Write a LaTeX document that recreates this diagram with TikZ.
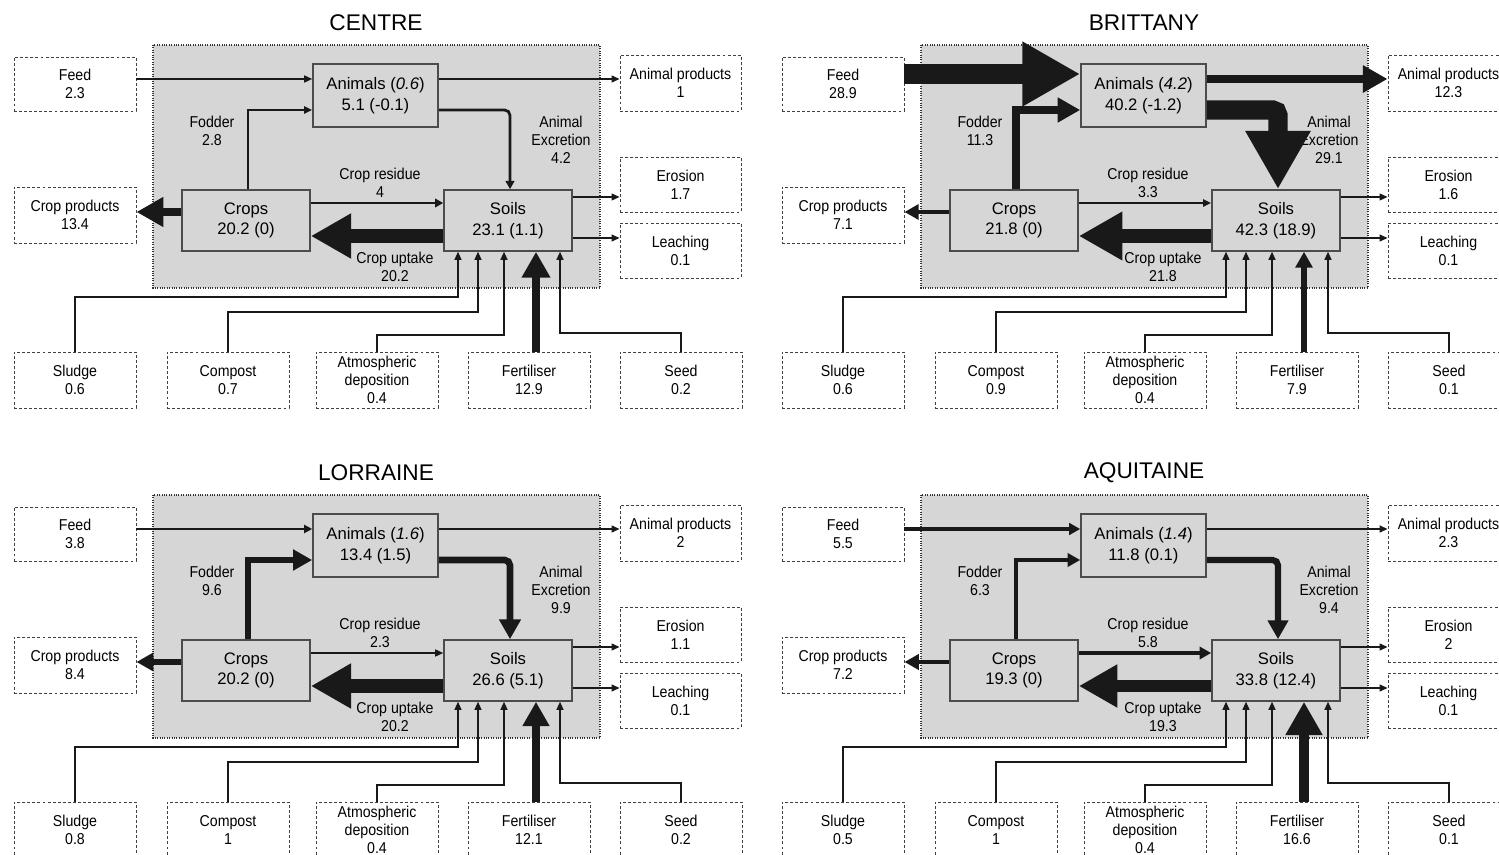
\documentclass[tikz,border=0pt]{standalone}
\usepackage{fontspec}
\setmainfont{Liberation Sans}
\newfontfamily\narrowfont{Liberation Sans}[FakeStretch=0.9]
\usetikzlibrary{arrows.meta}

% values of one region
\pgfkeys{/region/.is family, /region,
  title/.store in=\vTitle, feed/.store in=\vFeed, stock/.store in=\vStock,
  anim/.store in=\vAnim, aprod/.store in=\vAprod, fodder/.store in=\vFodder,
  excr/.store in=\vExcr, cprod/.store in=\vCprod, crops/.store in=\vCrops,
  resid/.store in=\vResid, soils/.store in=\vSoils, uptake/.store in=\vUptake,
  eros/.store in=\vEros, leach/.store in=\vLeach, sludge/.store in=\vSludge,
  compost/.store in=\vCompost, atmo/.store in=\vAtmo, fert/.store in=\vFert,
  seed/.store in=\vSeed, feedy/.store in=\vFeedY, feedy=79}

\tikzset{
  size/.style 2 args={minimum width=#1*0.75pt, minimum height=#2*0.75pt},
  frame/.style={draw=black!80, densely dotted, fill=black!16, line width=0.8pt},
  heading/.style={font=\fontsize{17}{20}\selectfont, inner sep=0},
  store/.style={draw=black!70, fill=black!16, line width=1.2pt, align=center, inner sep=0,
    font=\fontsize{12.5}{15.5}\selectfont},
  ext/.style={draw=black!75, fill=white, line width=0.7pt, dash pattern=on 2.2pt off 1.6pt,
    align=center, inner sep=0, font=\narrowfont\fontsize{11.8}{13.5}\selectfont},
  lbl/.style={align=center, inner sep=0, font=\narrowfont\fontsize{11.8}{13.5}\selectfont},
  flow/.code={%
    \pgfmathsetmacro\flw{max(1.2,0.66*#1)*0.75}%
    \pgfmathsetmacro\fhw{max(7,2.1*#1)*0.75}%
    \pgfmathsetmacro\fhl{max(8,2*#1)*0.75}%
    \edef\flowopts{draw=black!90, line width=\flw pt, -{Triangle[width=\fhw pt,length=\fhl pt]}}%
    \expandafter\tikzset\expandafter{\flowopts}}
}

\newcommand\region[3]{%
  \pgfkeys{/region,feedy=79,#3}%
  \begin{scope}[shift={#1}, name prefix=#2-]
    %Shape: region frame
    \filldraw[frame] (153,45) rectangle (600,288);
    \node[heading] (title) at (376,23) {\vTitle};

    % stores
    \node[store, size={125}{63}] (anim) at (375.5,95.5) {Animals (\textit{\vStock})\\\vAnim};
    \node[store, size={128}{61}] (crops) at (246,220.5) {Crops\\\vCrops};
    \node[store, size={128}{61}] (soils) at (508,220.5) {Soils\\\vSoils};

    % outside boxes
    \node[ext, size={122}{54}] (feed) at (75,84) {Feed\\\vFeed};
    \node[ext, size={121}{56}] (aprod) at (680.5,83) {Animal products\\\vAprod};
    \node[ext, size={122}{56}] (cprod) at (75,215) {Crop products\\\vCprod};
    \node[ext, size={121}{55}] (eros) at (680.5,184.5) {Erosion\\\vEros};
    \node[ext, size={121}{55}] (leach) at (680.5,250.5) {Leaching\\\vLeach};
    \node[ext, size={122}{56}] (sludge) at (75,380) {Sludge\\\vSludge};
    \node[ext, size={122}{56}] (compost) at (228,380) {Compost\\\vCompost};
    \node[ext, size={122}{56}] (atmo) at (377,380) {Atmospheric\\deposition\\\vAtmo};
    \node[ext, size={122}{56}] (fert) at (529,380) {Fertiliser\\\vFert};
    \node[ext, size={122}{56}] (seed) at (681,380) {Seed\\\vSeed};

    % flow labels
    \node[lbl] (fodderlbl) at (212,131) {Fodder\\\vFodder};
    \node[lbl] (excrlbl) at (561,140) {Animal\\Excretion\\\vExcr};
    \node[lbl] (residlbl) at (380,183) {Crop residue\\\vResid};
    \node[lbl] (uptakelbl) at (395,267) {Crop uptake\\\vUptake};

    % levels of the flows
    \coordinate (fd) at (0,\vFeedY);
    \coordinate (ap) at (0,79);
    \coordinate (fo) at (248,110);
    \coordinate (ex) at (510,110);
    \coordinate (cp) at (0,212);
    \coordinate (rs) at (0,203);
    \coordinate (up) at (0,236);
    \coordinate (er) at (0,197);
    \coordinate (le) at (0,238);
    \coordinate (sl) at (458,297);
    \coordinate (co) at (478,312);
    \coordinate (at) at (504,335);
    \coordinate (fe) at (536,0);
    \coordinate (se) at (560,333);

    % flows
    \draw[flow=\vFeed] (feed.east |- fd) -- (anim.west |- fd);
    \draw[flow=\vAprod] (anim.east |- ap) -- (aprod.west |- ap);
    \draw[flow=\vFodder] (crops.north -| fo) |- (anim.west |- fo);
    \draw[flow=\vExcr, rounded corners=4] (anim.east |- ex) -| (ex |- soils.north);
    \draw[flow=\vCprod] (crops.west |- cp) -- (cprod.east |- cp);
    \draw[flow=\vResid] (crops.east |- rs) -- (soils.west |- rs);
    \draw[flow=\vUptake] (soils.west |- up) -- (crops.east |- up);
    \draw[flow=\vEros] (soils.east |- er) -- (eros.west |- er);
    \draw[flow=\vLeach] (soils.east |- le) -- (leach.west |- le);
    \draw[flow=\vSludge] (sludge.north) |- (sl) -- (sl |- soils.south);
    \draw[flow=\vCompost] (compost.north) |- (co) -- (co |- soils.south);
    \draw[flow=\vAtmo] (atmo.north) |- (at) -- (at |- soils.south);
    \draw[flow=\vFert] (fe |- fert.north) -- (fe |- soils.south);
    \draw[flow=\vSeed] (seed.north) |- (se) -- (se |- soils.south);
  \end{scope}}

\begin{document}
\begin{tikzpicture}[x=0.75pt,y=0.75pt,yscale=-1,xscale=1]
  \clip (0,0) rectangle (1499,855);

  \region{(0,0)}{c}{title=CENTRE, feed=2.3, stock=0.6, anim={5.1 (-0.1)}, aprod=1,
    fodder=2.8, excr=4.2, cprod=13.4, crops={20.2 (0)}, resid=4, soils={23.1 (1.1)},
    uptake=20.2, eros=1.7, leach=0.1, sludge=0.6, compost=0.7, atmo=0.4, fert=12.9, seed=0.2}

  \region{(768,0)}{b}{title=BRITTANY, feed=28.9, feedy=74, stock=4.2, anim={40.2 (-1.2)}, aprod=12.3,
    fodder=11.3, excr=29.1, cprod=7.1, crops={21.8 (0)}, resid=3.3, soils={42.3 (18.9)},
    uptake=21.8, eros=1.6, leach=0.1, sludge=0.6, compost=0.9, atmo=0.4, fert=7.9, seed=0.1}

  \region{(0,450)}{l}{title=LORRAINE, feed=3.8, stock=1.6, anim={13.4 (1.5)}, aprod=2,
    fodder=9.6, excr=9.9, cprod=8.4, crops={20.2 (0)}, resid=2.3, soils={26.6 (5.1)},
    uptake=20.2, eros=1.1, leach=0.1, sludge=0.8, compost=1, atmo=0.4, fert=12.1, seed=0.2}

  \region{(768,450)}{a}{title=AQUITAINE, feed=5.5, stock=1.4, anim={11.8 (0.1)}, aprod=2.3,
    fodder=6.3, excr=9.4, cprod=7.2, crops={19.3 (0)}, resid=5.8, soils={33.8 (12.4)},
    uptake=19.3, eros=2, leach=0.1, sludge=0.5, compost=1, atmo=0.4, fert=16.6, seed=0.1}
\end{tikzpicture}
\end{document}
